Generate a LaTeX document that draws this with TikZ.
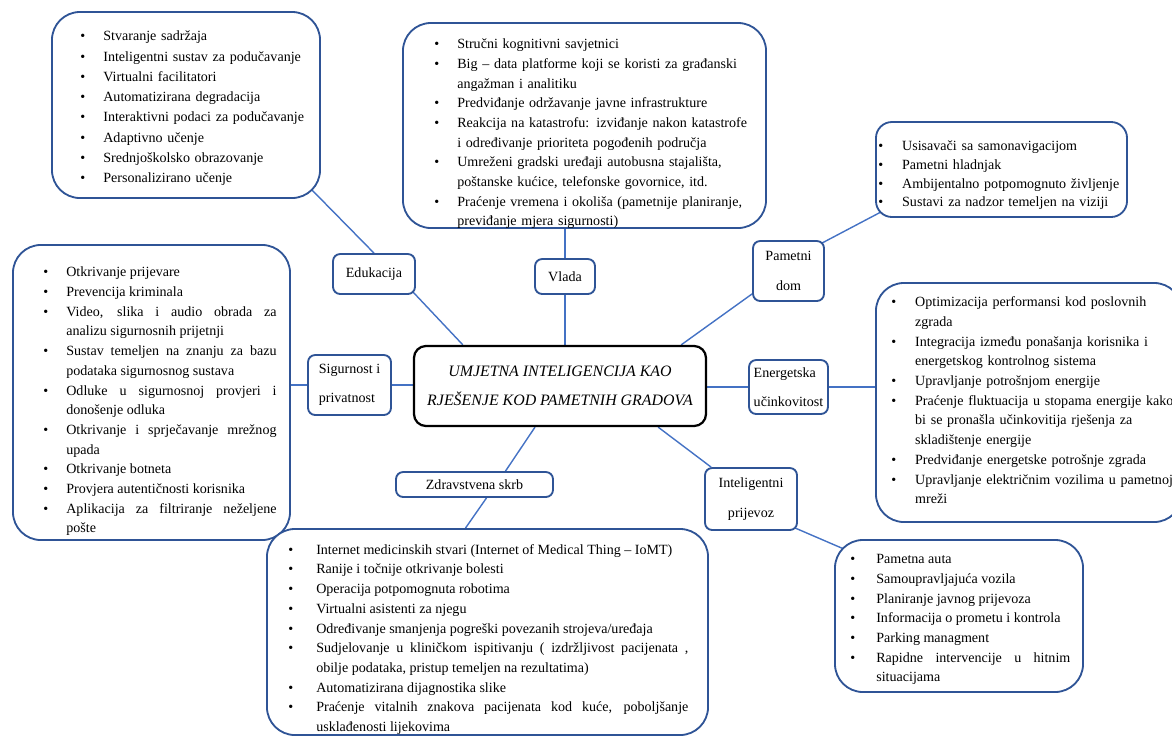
\documentclass[tikz,border=0pt]{standalone}
\usepackage{fontspec}
\setmainfont{Liberation Serif}
\usepackage{xcolor}
\definecolor{mapblue}{RGB}{47, 84, 150}
\definecolor{linkblue}{RGB}{68, 114, 196}
\usetikzlibrary{backgrounds}
\hyphenpenalty=10000
\newlength{\bind}
\setlength{\bind}{16.4pt}
\newcommand{\stavka}{\par\noindent\hangindent=\bind\hangafter=1\makebox[\bind][l]{\textbullet}\ignorespaces}

\begin{document}
\begin{tikzpicture}[
    x=0.025cm, y=-0.025cm,
    listbox/.style={rectangle, draw=mapblue, line width=1.3pt, fill=white, rounded corners=0.7cm, inner sep=0pt},
    labelbox/.style={rectangle, draw=mapblue, line width=1.3pt, fill=white, rounded corners=0.18cm, inner sep=0pt, font=\fontsize{10}{21}\selectfont},
    mainbox/.style={rectangle, draw=black, line width=1.6pt, fill=white, rounded corners=0.3cm, inner sep=0pt, align=center, font=\fontsize{11.3}{21}\selectfont\itshape},
    listtext/.style={anchor=west, inner sep=0pt, font=\fontsize{10}{14}\selectfont},
    link/.style={draw=linkblue, line width=1pt}
]
\useasboundingbox (0,0) rectangle (1172,739);

% Nodes
\node (ctr) [mainbox, minimum width=7.3cm, minimum height=2cm] at (560,386) {UMJETNA INTELIGENCIJA KAO\\RJEŠENJE KOD PAMETNIH GRADOVA};

\node (edu) [labelbox, minimum width=2.05cm, minimum height=1cm] at (374,274) {Edukacija};
\node (vlada) [labelbox, minimum width=1.5cm, minimum height=0.875cm] at (565,276.5) {Vlada};
\node (pamet) [labelbox, minimum width=1.775cm, minimum height=1.5cm, align=center] at (788.5,271) {Pametni\\dom};
\node (sig) [labelbox, minimum width=2.075cm, minimum height=1.5cm, align=left] at (349.5,385) {Sigurnost i\\privatnost};
\node (energ) [labelbox, minimum width=1.975cm, minimum height=1.35cm, align=left] at (788.5,387) {Energetska\\učinkovitost};
\node (zdrav) [labelbox, minimum width=3.925cm, minimum height=0.625cm] at (474.5,484.5) {Zdravstvena skrb};
\node (intel) [labelbox, minimum width=2.3cm, minimum height=1.55cm, align=center] at (751,499) {Inteligentni\\prijevoz};

\node (edulist) [listbox, minimum width=6.7cm, minimum height=4.65cm] at (186,105) {};
\node (vladalist) [listbox, minimum width=9.075cm, minimum height=5.125cm] at (584.5,125.5) {};
\node (pametlist) [listbox, rounded corners=0.4cm, minimum width=6.275cm, minimum height=2.375cm] at (1001.5,169.5) {};
\node (siglist) [listbox, minimum width=6.925cm, minimum height=7.375cm] at (151.5,392.5) {};
\node (energlist) [listbox, minimum width=7.65cm, minimum height=5.975cm] at (1029,402.5) {};
\node (zdravlist) [listbox, minimum width=11.025cm, minimum height=5.15cm] at (487.5,632) {};
\node (prijlist) [listbox, minimum width=6.2cm, minimum height=3.8cm] at (959,616) {};

% List texts
\node (edutxt) [listtext, text width=6cm, align=left, font=\fontsize{10}{14.4}\selectfont] at (80,103) {%
\stavka Stvaranje sadržaja
\stavka Inteligentni sustav za podučavanje
\stavka Virtualni facilitatori
\stavka Automatizirana degradacija
\stavka Interaktivni podaci za podučavanje
\stavka Adaptivno učenje
\stavka Srednjoškolsko obrazovanje
\stavka Personalizirano učenje\par};

\node (vladatxt) [listtext, text width=8.3cm, align=left] at (434,129) {%
\stavka Stručni kognitivni savjetnici
\stavka Big – data platforme koji se koristi za građanski\newline angažman i analitiku
\stavka Predviđanje održavanje javne infrastrukture
\stavka Reakcija na katastrofu: izviđanje nakon katastrofe\newline i određivanje prioriteta pogođenih područja
\stavka Umreženi gradski uređaji autobusna stajališta,\newline poštanske kućice, telefonske govornice, itd.
\stavka Praćenje vremena i okoliša (pametnije planiranje,\newline previđanje mjera sigurnosti)\par};

\node (pamettxt) [listtext, text width=6.3cm, align=left, font=\fontsize{10}{13.3}\selectfont] at (878,171) {%
\setlength{\bind}{17pt}%
\stavka Usisavači sa samonavigacijom
\stavka Pametni hladnjak
\stavka Ambijentalno potpomognuto življenje
\stavka Sustavi za nadzor temeljen na viziji\par};

\node (sigtxt) [listtext, text width=5.83cm, align=justify] at (43,396.5) {%
\stavka Otkrivanje prijevare
\stavka Prevencija kriminala
\stavka Video, slika i audio obrada za\linebreak analizu sigurnosnih prijetnji
\stavka Sustav temeljen na znanju za bazu\linebreak podataka sigurnosnog sustava
\stavka Odluke u sigurnosnoj provjeri i\linebreak donošenje odluka
\stavka Otkrivanje i sprječavanje mrežnog\linebreak upada
\stavka Otkrivanje botneta
\stavka Provjera autentičnosti korisnika
\stavka Aplikacija za filtriranje neželjene\linebreak pošte\par};

\node (energtxt) [listtext, text width=10cm, align=left] at (891,395.5) {%
\setlength{\bind}{17pt}%
\stavka Optimizacija performansi kod poslovnih\newline zgrada
\stavka Integracija između ponašanja korisnika i\newline energetskog kontrolnog sistema
\stavka Upravljanje potrošnjom energije
\stavka Praćenje fluktuacija u stopama energije kako\newline bi se pronašla učinkovitija rješenja za\newline skladištenje energije
\stavka Predviđanje energetske potrošnje zgrada
\stavka Upravljanje električnim vozilima u pametnoj\newline mreži\par};

\node (zdravtxt) [listtext, text width=10cm, align=justify] at (288,634.5) {%
\setlength{\bind}{19.9pt}%
\stavka Internet medicinskih stvari (Internet of Medical Thing – IoMT)
\stavka Ranije i točnije otkrivanje bolesti
\stavka Operacija potpomognuta robotima
\stavka Virtualni asistenti za njegu
\stavka Određivanje smanjenja pogreški povezanih strojeva/uređaja
\stavka Sudjelovanje u kliničkom ispitivanju ( izdržljivost pacijenata ,\linebreak obilje podataka, pristup temeljen na rezultatima)
\stavka Automatizirana dijagnostika slike
\stavka Praćenje vitalnih znakova pacijenata kod kuće, poboljšanje\linebreak usklađenosti lijekovima\par};

\node (prijtxt) [listtext, text width=5.5cm, align=justify] at (850,614.5) {%
\setlength{\bind}{18.5pt}%
\stavka Pametna auta
\stavka Samoupravljajuća vozila
\stavka Planiranje javnog prijevoza
\stavka Informacija o prometu i kontrola
\stavka Parking managment
\stavka Rapidne intervencije u hitnim\linebreak situacijama\par};

% Links
\begin{scope}[on background layer]
\draw [link] ([shift={(-10,-10)}]edulist.south east) -- (edu.north);
\draw [link] ([shift={(-3,-3)}]edu.south east) -- ([shift={(50,0)}]ctr.north west);
\draw [link] (vlada.north) -- (vlada.north |- vladalist.south);
\draw [link] (vlada.south) -- (vlada.south |- ctr.north);
\draw [link] ([shift={(-3,3)}]pamet.north east) -- ([shift={(6,-6)}]pametlist.south west);
\draw [link] ([shift={(0,-8)}]pamet.south west) -- ([shift={(-26,0)}]ctr.north east);
\draw [link] (sig.west) -- (sig.west -| siglist.east);
\draw [link] (sig.east) -- (sig.east -| ctr.west);
\draw [link] (energ.west) -- (energ.west -| ctr.east);
\draw [link] (energ.east) -- (energ.east -| energlist.west);
\draw [link] ([shift={(-25,0)}]ctr.south) -- ([shift={(31,0)}]zdrav.north);
\draw [link] ([shift={(12,0)}]zdrav.south) -- ([shift={(-22,0)}]zdravlist.north);
\draw [link] ([shift={(-49,0)}]ctr.south east) -- ([shift={(7,0)}]intel.north west);
\draw [link] ([shift={(-3,-3)}]intel.south east) -- ([shift={(10,10)}]prijlist.north west);
\end{scope}

\end{tikzpicture}
\end{document}
